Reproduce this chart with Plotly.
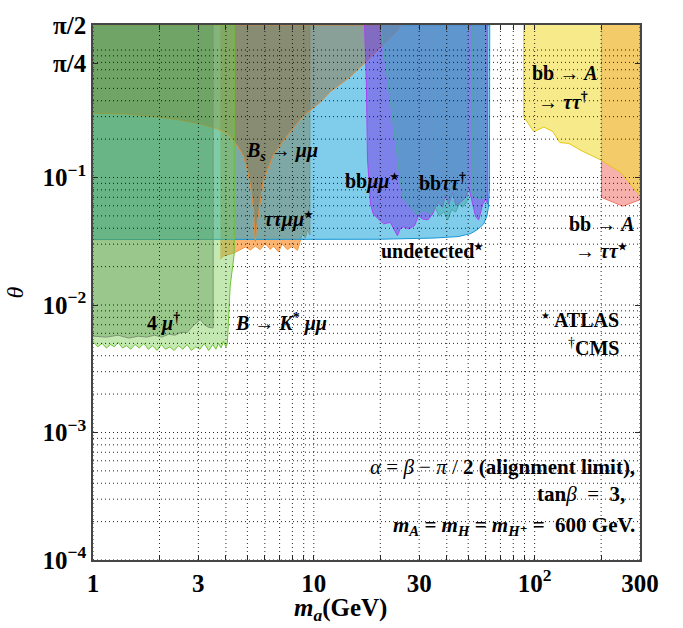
import numpy as np
import plotly.graph_objects as go

THETA_MAX = np.pi / 2
X_MIN, X_MAX = 1.0, 300.0
Y_MIN = 1e-4

# ---- exclusion regions (m_a in GeV, theta) ----
# tau tau mu mu (ATLAS)
tt_x = [3.77, 3.89, 4.32, 4.65, 4.90, 5.16, 5.43, 5.72, 6.03, 6.35, 6.56, 6.91, 7.20, 7.59, 8.0, 8.43, 8.88, 9.16, 9.35, 9.6, 9.6, 3.77]
tt_theta = [0.0229, 0.0242, 0.0255, 0.0273, 0.0285, 0.0270, 0.0290, 0.0272, 0.0304, 0.0273, 0.0290, 0.0262, 0.0300, 0.0272, 0.0290, 0.0268, 0.0363, 0.0335, 0.0389, 0.0354, THETA_MAX, THETA_MAX]

# undetected (ATLAS)
cy_x = [1.0, 20.0, 35.0, 45.0, 51.3, 55.0, 58.8, 60.8, 61.7, 62.4, 62.6, 1.0]
cy_theta = [0.0326, 0.0328, 0.0335, 0.0344, 0.0363, 0.039, 0.0433, 0.050, 0.058, 0.08, THETA_MAX, THETA_MAX]

# B_s -> mu mu
bs_x = [1.0, 1.4, 1.81, 2.4, 3.06, 3.6, 4.06, 4.5, 4.79, 5.0, 5.16, 5.3, 5.37, 5.43, 5.5, 5.61, 5.9, 6.55, 7.58, 8.95, 10.7, 11.9, 14.6, 19.0, 23.9, 24.7, 1.0]
bs_theta = [0.32, 0.315, 0.303, 0.285, 0.263, 0.243, 0.22, 0.178, 0.149, 0.115, 0.088, 0.062, 0.046, 0.0315, 0.040, 0.052, 0.094, 0.149, 0.213, 0.303, 0.389, 0.472, 0.615, 0.95, 1.42, THETA_MAX, THETA_MAX]

# B -> K* mu mu (light green)
ga_x = [1.0, 1.05, 1.1, 1.15, 1.2, 1.25, 1.3, 1.36, 1.42, 1.48, 1.55, 1.62, 1.7, 1.78, 1.86, 1.95,
        2.04, 2.13, 2.23, 2.33, 2.44, 2.55, 2.67, 2.79, 2.92, 3.05, 3.19, 3.34, 3.49, 3.6, 3.7, 3.8,
        3.9, 4.0, 4.06, 4.18, 4.36, 4.36, 1.0]
ga_theta = [0.0052, 0.0047, 0.0050, 0.0046, 0.0049, 0.0047, 0.0051, 0.0046, 0.0048, 0.0045, 0.0049, 0.0046,
            0.0050, 0.0045, 0.0048, 0.0044, 0.0049, 0.0045, 0.0047, 0.0044, 0.0048, 0.0045, 0.0049, 0.0044,
            0.0047, 0.0045, 0.0050, 0.0044, 0.0049, 0.0045, 0.0050, 0.0046, 0.0052, 0.0047, 0.0050, 0.0141,
            0.025, THETA_MAX, THETA_MAX]

# 4 mu (CMS)
gb_x = [1.0, 1.15, 1.3, 1.45, 1.6, 1.75, 1.9, 2.05, 2.2, 2.35, 2.5, 2.67, 2.85, 3.06, 3.2, 3.33, 3.5, 3.5, 1.0]
gb_theta = [0.0057, 0.0056, 0.0058, 0.0055, 0.0057, 0.0056, 0.0058, 0.0056, 0.0059, 0.0058, 0.0061, 0.0061,
            0.0069, 0.0077, 0.0070, 0.0067, 0.0066, THETA_MAX, THETA_MAX]

# b b mu mu (ATLAS)
pu_x = [16.97, 17.3, 17.5, 18.06, 18.6, 20.7, 22.2, 23.9, 24.6, 25.5, 27.0, 28.6, 29.7, 31.1, 32.8, 34.5,
        36.4, 38.3, 39.5, 40.8, 42.6, 43.9, 46.3, 48.7, 50.3, 52.4, 54.1, 55.8, 58.2, 60.1, 61.3, 61.0]
pu_theta = [THETA_MAX, 0.55, 0.14, 0.0617, 0.0516, 0.0433, 0.0445, 0.0350, 0.0396, 0.0410, 0.0396, 0.0420,
            0.0500, 0.0473, 0.0465, 0.0516, 0.064, 0.0585, 0.0736, 0.0617, 0.0762, 0.0606, 0.064, 0.0698,
            0.0834, 0.0617, 0.049, 0.0465, 0.0617, 0.0675, 0.0617, THETA_MAX]

# b b tau tau (CMS), two pieces
bt1_x = [20.05, 25.2, 29.5, 31.5, 33.8, 35.5, 37.0, 38.8, 40.4, 42.0, 43.9, 45.5, 47.2, 49.8, 49.8]
bt1_theta = [THETA_MAX, 0.0698, 0.0508, 0.0560, 0.0520, 0.0580, 0.0500, 0.0540, 0.0465, 0.0560, 0.0536, 0.0620,
             0.0585, 0.0663, THETA_MAX]
bt2_x = [52.4, 52.4, 56.0, 60.0, 60.0]
bt2_theta = [THETA_MAX, 0.072, 0.068, 0.070, THETA_MAX]

# b b -> A -> tau tau (CMS)
ye_x = [89.3, 89.3, 99.2, 110, 121, 130, 143, 162, 200, 246, 297, 300, 300]
ye_theta = [THETA_MAX, 0.298, 0.229, 0.249, 0.229, 0.188, 0.185, 0.163, 0.137, 0.109, 0.0736, 0.070, THETA_MAX]

# b b -> A -> tau tau (ATLAS)
pk_x = [201, 201, 251, 297, 300, 300]
pk_theta = [THETA_MAX, 0.0698, 0.0596, 0.0663, 0.067, THETA_MAX]

# ---- axes ticks ----
x_tick_vals = [m * 10 ** k for k in range(0, 3) for m in range(1, 10) if m * 10 ** k <= X_MAX]
x_tick_labels = {1: "1", 3: "3", 10: "10", 30: "30", 100: "10<sup>2</sup>", 300: "300"}
y_tick_vals = [1e-4, 1e-3, 1e-2, 1e-1, np.pi / 4, np.pi / 2]
y_tick_text = ["10<sup>−4</sup>", "10<sup>−3</sup>", "10<sup>−2</sup>", "10<sup>−1</sup>", "π/4", "π/2"]
y_grid_vals = [m * 10 ** k for k in range(-4, 0) for m in range(1, 10)] + [1.0]

fig = go.Figure()

def region(xs, ys, fill, edge, width=1.0):
    fig.add_trace(go.Scatter(x=xs, y=ys, mode="lines", fill="toself", fillcolor=fill,
                             line=dict(color=edge, width=width), hoverinfo="skip", showlegend=False))

region(tt_x, tt_theta, "rgba(248,130,20,0.6)", "rgb(245,150,60)")
region(cy_x, cy_theta, "rgba(0,155,215,0.5)", "rgb(20,150,215)")
region(bs_x, bs_theta, "rgba(150,107,53,0.45)", "rgb(225,140,60)")
region(ga_x, ga_theta, "rgba(125,205,85,0.45)", "rgb(110,195,50)")
region(gb_x, gb_theta, "rgba(70,135,65,0.33)", "rgb(125,150,115)")
region(pu_x, pu_theta, "rgba(123,55,235,0.5)", "rgb(165,70,240)")
region(bt1_x, bt1_theta, "rgba(65,170,175,0.5)", "rgb(80,165,170)")
region(bt2_x, bt2_theta, "rgba(65,170,175,0.5)", "rgb(80,165,170)")
region(pk_x, pk_theta, "rgba(240,100,90,0.5)", "rgb(240,120,110)")
region(ye_x, ye_theta, "rgba(240,220,60,0.6)", "rgb(230,200,20)")

# dotted grid drawn above the regions
gx, gy = [], []
for v in x_tick_vals:
    gx += [v, v, None]
    gy += [Y_MIN, THETA_MAX, None]
for v in y_grid_vals:
    gx += [X_MIN, X_MAX, None]
    gy += [v, v, None]
fig.add_trace(go.Scatter(x=gx, y=gy, mode="lines", line=dict(color="rgba(0,0,0,0.85)", width=1, dash="1px,3px"),
                         hoverinfo="skip", showlegend=False))

SER = "Liberation Serif, Times New Roman, DejaVu Serif, serif"
STAR = "<sup><span style='font-size:10px'>★</span></sup>"
DAG = "<sup>†</sup>"
labels = [
    ("<b><i>B<sub>s</sub></i> → <i>μμ</i></b>", 7.2, 0.16, "center", 20),
    ("<b><i>ττμμ</i>" + STAR + "</b>", 7.67, 0.0465, "center", 20),
    ("<b>bb<i>μμ</i>" + STAR + "</b>", 18.3, 0.0927, "center", 20),
    ("<b>bb<i>ττ</i>" + DAG + "</b>", 38.3, 0.0927, "center", 20),
    ("<b>undetected" + STAR + "</b>", 34.2, 0.0264, "center", 20),
    ("<b>bb → <i>A</i></b>", 137, 0.66, "center", 20),
    ("<b>→ <i>ττ</i>" + DAG + "</b>", 134, 0.395, "center", 20),
    ("<b>bb → <i>A</i></b>", 290, 0.0432, "right", 20),
    ("<b>→ <i>ττ</i>" + STAR + "</b>", 267, 0.0264, "right", 20),
    (STAR + "<b> ATLAS</b>", 246, 0.00763, "right", 20),
    (DAG + "<b>CMS</b>", 246, 0.00466, "right", 20),
    ("<b>4 <i>μ</i>" + DAG + "</b>", 2.08, 0.00724, "center", 20),
    ("<b><i>B</i> → <i>K</i><sup>*</sup> <i>μμ</i></b>", 4.32, 0.00724, "left", 20),
    ("<i>α</i> = <i>β</i> − <i>π</i> / <b>2 (alignment limit),</b>", 290, 5.37e-4, "right", 21),
    ("<b>tan</b><i>β</i>  =  <b>3,</b>", 262, 3.27e-4, "right", 21),
    ("<b><i>m<sub>A</sub></i> = <i>m<sub>H</sub></i> = <i>m<sub>H⁺</sub></i> =  600 GeV.</b>", 290, 1.86e-4, "right", 21),
]
for text, xv, yv, anchor, size in labels:
    fig.add_annotation(x=np.log10(xv), y=np.log10(yv), xref="x", yref="y", text=text, showarrow=False,
                       xanchor=anchor, yanchor="middle", font=dict(family=SER, size=size, color="black"))

# x axis title
fig.add_annotation(x=0.453, y=-0.092, xref="paper", yref="paper", text="<b><i>m<sub>a</sub></i>(GeV)</b>",
                   showarrow=False, xanchor="center", yanchor="middle",
                   font=dict(family=SER, size=25, color="black"))

axis_common = dict(showline=True, linecolor="rgb(70,70,70)", linewidth=1.5, mirror="allticks",
                   ticks="inside", tickcolor="rgb(40,40,40)", ticklen=5, showgrid=False, zeroline=False,
                   layer="above traces")
fig.update_xaxes(type="log", range=[np.log10(X_MIN), np.log10(X_MAX)], tickmode="array",
                 tickvals=x_tick_vals,
                 ticktext=[("<b>" + x_tick_labels[v] + "</b>") if v in x_tick_labels else "" for v in x_tick_vals],
                 tickfont=dict(family=SER, size=25, color="black"),
                 **axis_common)
fig.update_yaxes(type="log", range=[np.log10(Y_MIN), np.log10(THETA_MAX)], tickmode="array",
                 tickvals=y_tick_vals, ticktext=["<b>" + t + "</b>" for t in y_tick_text],
                 tickfont=dict(family=SER, size=25, color="black"),
                 title=dict(text="<i>θ</i>", font=dict(family=SER, size=24, color="black"), standoff=12),
                 **axis_common)
fig.update_layout(width=683, height=628, margin=dict(l=93, r=43, t=14, b=68),
                  font=dict(family=SER),
                  plot_bgcolor="white", paper_bgcolor="white", showlegend=False)
fig.write_html("out.html")
